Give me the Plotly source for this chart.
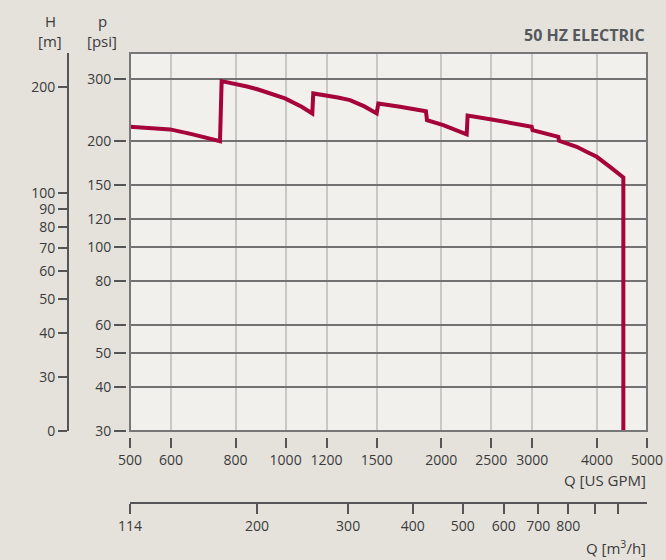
import math
import plotly.graph_objects as go

# ---- data ----
flow_gpm = [500, 546, 598, 658, 683, 746.5, 752, 798, 842, 885, 941, 997, 1074, 1126,
            1131, 1200, 1262, 1332, 1420, 1500,
            1511, 1664, 1868, 1877, 2018, 2240,
            2249, 2504, 2992, 3003, 3369, 3380, 3656, 3827, 3997, 4240, 4374, 4500, 4500]
pressure_psi = [219.6, 218.0, 215.9, 209.3, 206.3, 200.0, 296.1, 291.7, 286.0, 280.4, 272.0, 264.4,
                250.3, 239.7,
                273.2, 270.2, 266.0, 261.5, 251.0, 239.7,
                255.9, 250.3, 243.3, 229.4, 222.0, 208.9,
                236.3, 230.4, 219.6, 214.9, 205.7, 200.4, 192.7, 186.2, 180.5, 169.0, 163.0, 157.7, 30]

gpm_ticks = [500, 600, 800, 1000, 1200, 1500, 2000, 2500, 3000, 4000, 5000]
gpm_labels = [str(v) for v in gpm_ticks]
psi_ticks = [30, 40, 50, 60, 80, 100, 120, 150, 200, 300]
psi_labels = [str(v) for v in psi_ticks]
head_ticks_m = [30, 40, 50, 60, 70, 80, 90, 100, 200]
head_labels = [str(v) for v in head_ticks_m]
m3h_ticks = [113.56, 200, 300, 400, 500, 600, 700, 800]
m3h_labels = ["114", "200", "300", "400", "500", "600", "700", "800"]
m3h_minor_ticks = [900, 1000]

PSI_PER_M = 1.4223
M3H_PER_GPM = 0.22712

# ---- styling ----
W, H = 666, 560
FONT = "Open Sans"
TXT = "#3a3a3a"
RED = "#a6033a"
PAGE_BG = "#e5e2dc"
PLOT_BG = "#f1f0ec"

x0px, x1px, y0px, y1px = 130, 647, 53, 431
xdom = [x0px / W, x1px / W]
ydom = [1 - y1px / H, 1 - y0px / H]
xrange_log = [math.log10(500), math.log10(5000)]
yrange_log = [math.log10(30), math.log10(356)]

fig = go.Figure()
fig.add_trace(go.Scatter(x=flow_gpm, y=pressure_psi, mode="lines",
                         line=dict(color=RED, width=4),
                         hoverinfo="skip", showlegend=False))
# invisible traces to register secondary axes
fig.add_trace(go.Scatter(x=flow_gpm, y=pressure_psi, mode="lines", xaxis="x2", yaxis="y2",
                         line=dict(color=RED, width=0), opacity=0, hoverinfo="skip",
                         showlegend=False))
fig.add_trace(go.Scatter(x=flow_gpm, y=pressure_psi, mode="lines", xaxis="x3", yaxis="y",
                         line=dict(color=RED, width=0), opacity=0, hoverinfo="skip",
                         showlegend=False))

tickfont = dict(family=FONT, size=14, color=TXT)

head_vals = [30] + [h * PSI_PER_M for h in head_ticks_m]
head_text = ["0"] + head_labels
m3h_vals = [v / M3H_PER_GPM for v in m3h_ticks]
m3h_minor_vals = [v / M3H_PER_GPM for v in m3h_minor_ticks]

common = dict(automargin=False, fixedrange=True, zeroline=False)

fig.update_layout(
    width=W, height=H,
    margin=dict(l=0, r=0, t=0, b=0),
    paper_bgcolor=PAGE_BG,
    plot_bgcolor=PLOT_BG,
    showlegend=False,
    xaxis=dict(type="log", range=xrange_log, domain=xdom, anchor="free",
               position=1 - 437 / H,
               tickmode="array", tickvals=gpm_ticks, ticktext=gpm_labels,
               showgrid=True, gridcolor="#c9c8c4", gridwidth=2, showline=False,
               ticks="outside", ticklen=10, tickwidth=1.5, tickcolor="#555",
               tickfont=tickfont, **common),
    yaxis=dict(type="log", range=yrange_log, domain=ydom, anchor="free",
               position=126 / W,
               tickmode="array", tickvals=psi_ticks, ticktext=psi_labels,
               showgrid=True, gridcolor="#727272", gridwidth=1.5, showline=False,
               ticks="outside", ticklen=12, tickwidth=1.5, tickcolor="#555",
               tickfont=tickfont, **common),
    xaxis2=dict(type="log", range=xrange_log, domain=[x0px / W, 648 / W], overlaying="x",
                anchor="free", position=1 - 503 / H,
                tickmode="array", tickvals=m3h_vals, ticktext=m3h_labels,
                showgrid=False, showline=True, linecolor="#555", linewidth=2,
                ticks="outside", ticklen=10, tickwidth=1.5, tickcolor="#555",
                tickfont=tickfont, **common),
    xaxis3=dict(type="log", range=xrange_log, domain=[x0px / W, 648 / W], overlaying="x",
                anchor="free", position=1 - 503 / H,
                tickmode="array", tickvals=m3h_minor_vals, showticklabels=False,
                showgrid=False, showline=False,
                ticks="outside", ticklen=10, tickwidth=1.5, tickcolor="#555", **common),
    yaxis2=dict(type="log", range=yrange_log, overlaying="y", anchor="free",
                position=68 / W, side="left",
                tickmode="array", tickvals=head_vals, ticktext=head_text,
                showgrid=False, showline=True, linecolor="#555", linewidth=2,
                ticks="outside", ticklen=9, tickwidth=1.5, tickcolor="#555",
                tickfont=tickfont, **common),
)

fig.add_shape(type="rect", xref="x domain", yref="y domain", x0=0, x1=1, y0=0, y1=1,
              line=dict(color="#777", width=2), fillcolor="rgba(0,0,0,0)", layer="above")

def ann(text, xpx, ypx, xanchor="center", size=15, bold=False, color=TXT):
    fig.add_annotation(text=f"<b>{text}</b>" if bold else text,
                       x=xpx / W, y=1 - ypx / H, xref="paper", yref="paper",
                       xanchor=xanchor, yanchor="middle", showarrow=False,
                       font=dict(family=FONT, size=size, color=color))

ann("Q [US GPM]", 648, 480, xanchor="right")
ann("Q [m<sup>3</sup>/h]", 648, 547, xanchor="right")
ann("H", 50, 21)
ann("[m]", 50, 41)
ann("p", 102, 21)
ann("[psi]", 102, 41)
ann("50 HZ ELECTRIC", 647, 35, xanchor="right", size=16, bold=True, color="#55595c")

fig.write_html("out.html", config={"displayModeBar": False},
               post_script="document.body.style.margin='0';")
